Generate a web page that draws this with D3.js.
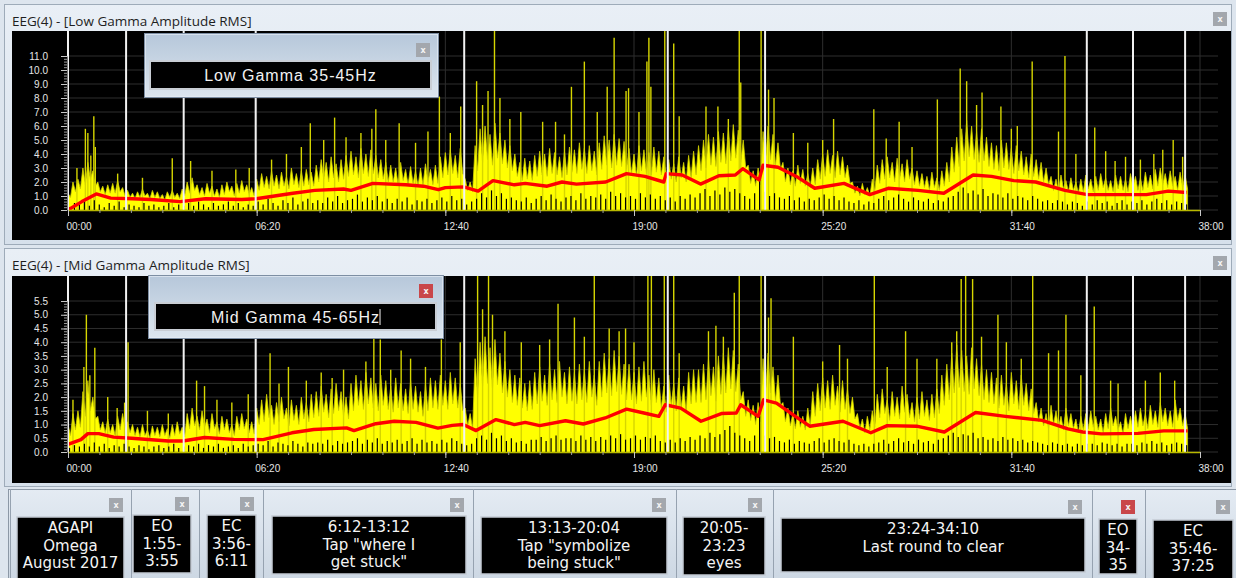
<!DOCTYPE html>
<html>
<head>
<meta charset="utf-8">
<title>EEG(4) Gamma Amplitude RMS</title>
<script src="https://cdn.jsdelivr.net/npm/d3@7"></script>
<style>
  body { margin: 0; background: #dfe7f0; }
  svg { display: block; }
</style>
</head>
<body>
<div id="eegchart"></div>
<script>
// ---- values ----

var stepSec = 10; // body / core / floor arrays hold one value every 10 s

var tickSecs = [0, 380, 760, 1140, 1520, 1900, 2280];
var tickLabels = ["00:00", "06:20", "12:40", "19:00", "25:20", "31:40", "38:00"];

// white event markers, in seconds
var markerSecs = [0, 117, 233, 378, 798, 1208, 1404, 2052, 2145, 2250];

var lowTicks = [0, 1, 2, 3, 4, 5, 6, 7, 8, 9, 10, 11];
var midTicks = [0, 0.5, 1, 1.5, 2, 2.5, 3, 3.5, 4, 4.5, 5, 5.5];

// Low gamma: tips of the dense yellow band
var lowBody = [1.2,2.0,2.2, 3.0,3.4,2.8, 2.0,1.7,1.8, 1.9,2.1,1.6,
  1.4,1.2,1.3,1.5,1.2,1.4,1.3,1.1,1.3,1.4,1.2,1.5,
  2.0,2.3,1.8,1.6,1.9,1.7,1.5,1.8,2.0,1.7,1.9,2.1,1.8,1.6,
  2.2,2.6,2.4,2.8,2.5,2.7,2.4,3.0,2.6,2.8,2.9,2.7,
  3.2,3.6,3.4,3.8,3.3,3.6,3.9, 4.2,3.8,4.4,4.0,4.3,3.9,3.6,3.4,
  3.2,3.0,3.4,2.9,3.1,2.8,3.0,3.3,2.9,3.2, 3.8,4.1,4.3,3.9,4.4, 2.2,2.0,
  4.6,5.8,6.0,5.4,6.2,5.5,5.0,4.6,4.0, 3.4,3.7,3.5, 3.9,4.2,4.0,4.4,4.1,3.8,4.2,
  4.5,4.3,4.8,4.4,4.6,4.2, 4.8,5.3,5.0,5.4,5.1,4.9, 4.4,4.0,4.6,4.3,4.1,4.5,4.2,
  3.8, 3.6,3.3,3.8,3.4,3.9,4.2, 4.6,5.0,5.4,5.2,5.6,5.5,5.9,6.1,5.7,5.0,
  3.2,2.8,3.0, 5.6,6.0,5.4,4.8, 3.4,3.0,2.8,3.2,2.9,2.6,3.0,
  3.6,4.0,4.3,3.9,4.2,3.8,3.2, 2.0,1.7,1.9,1.6,2.2,
  3.2,3.6,3.8,3.4,3.7,3.3,3.6,3.0,2.8, 2.6,2.4,2.7,2.3,2.8,3.4,
  4.5,5.2,5.8,6.4,6.0,5.6,5.8,5.2,4.8, 4.6,5.0,4.8,4.4,4.6, 4.2,3.8,4.0,3.6,3.4,3.0,
  2.4,2.2,2.5,2.1,2.3,2.0,2.2, 2.5,2.2,2.4,2.6,2.3,2.1,2.5,2.4,2.2,2.6,
  2.4,2.3,2.7,2.5,2.9,3.0,2.6,2.8,2.4,2.7,2.5];

// Low gamma: solid level between the tips
var lowCore = [0.9,1.3,1.5, 1.8,2.2,1.7, 1.3,1.1,1.2, 1.2,1.3,1.0,
  0.9,0.8,0.9,1.0,0.8,0.9,0.8,0.7,0.9,0.9,0.8,1.0,
  1.2,1.4,1.1,1.0,1.2,1.0,0.9,1.1,1.3,1.0,1.2,1.3,1.1,1.0,
  1.4,1.6,1.5,1.7,1.5,1.7,1.5,1.8,1.6,1.7,1.8,1.7,
  2.0,2.2,2.0,2.3,2.0,2.2,2.4, 2.5,2.3,2.6,2.4,2.6,2.3,2.2,2.0,
  2.0,1.8,2.1,1.8,1.9,1.7,1.8,2.0,1.8,1.9, 2.3,2.5,2.6,2.3,2.6, 1.4,1.3,
  2.8,3.4,3.6,3.2,3.7,3.3,3.0,2.8,2.4, 2.1,2.2,2.1, 2.4,2.5,2.4,2.6,2.5,2.3,2.5,
  2.7,2.6,2.9,2.6,2.8,2.5, 2.9,3.2,3.0,3.2,3.1,2.9, 2.6,2.4,2.8,2.6,2.5,2.7,2.5,
  2.3, 2.2,2.0,2.3,2.0,2.3,2.5, 2.8,3.0,3.2,3.1,3.4,3.3,3.5,3.7,3.4,3.0,
  1.9,1.7,1.8, 3.4,3.6,3.2,2.9, 2.0,1.8,1.7,1.9,1.7,1.6,1.8,
  2.2,2.4,2.6,2.3,2.5,2.3,1.9, 1.2,1.0,1.1,1.0,1.3,
  1.9,2.2,2.3,2.0,2.2,2.0,2.2,1.8,1.7, 1.6,1.4,1.6,1.4,1.7,2.0,
  2.7,3.1,3.5,3.8,3.6,3.4,3.5,3.1,2.9, 2.8,3.0,2.9,2.6,2.8, 2.5,2.3,2.4,2.2,2.0,1.8,
  1.4,1.3,1.5,1.3,1.4,1.2,1.3, 1.5,1.3,1.4,1.6,1.4,1.3,1.5,1.4,1.3,1.6,
  1.4,1.4,1.6,1.5,1.7,1.8,1.6,1.7,1.4,1.6,1.5];

// Low gamma: black dips rising from the baseline
var lowFloor = [0.2,0.5,0.4, 0.6,0.3,0.7, 0.4,0.2,0.5, 0.3,0.6,0.2,
  0.4,0.3,0.2,0.5,0.3,0.4,0.2,0.3,0.5,0.2,0.4,0.3,
  0.5,0.3,0.6,0.4,0.2,0.5,0.3,0.4,0.6,0.3,0.5,0.2,0.4,0.3,
  0.6,0.4,0.8,0.5,0.3,0.7,0.5,0.9,0.4,0.6,0.8,0.5,
  0.7,0.5,0.9,0.6,1.0,0.5,0.7, 0.8,1.1,0.6,0.9,0.7,1.0,0.6,0.8,
  0.5,0.8,0.6,0.9,0.4,0.7,0.6,0.8,0.5,0.7, 0.9,0.6,1.0,0.7,0.8, 0.4,0.6,
  0.8,1.2,0.9,1.4,1.0,1.2,0.8,0.9,0.7, 0.6,0.9,0.5, 0.8,1.0,0.7,1.1,0.8,0.6,0.9,
  1.0,0.7,1.2,0.8,1.0,0.9, 1.1,0.8,1.3,1.0,1.2,0.9, 1.0,0.8,1.2,0.9,1.1,0.8,1.0,
  0.7, 0.9,0.6,1.0,0.8,1.1,0.9, 1.2,1.5,1.0,1.4,1.1,1.6,1.3,1.5,1.2,1.0,
  0.8,1.2,2.5, 1.3,1.0,1.2,0.9, 0.8,1.0,0.7,0.9,0.6,0.8,0.7,
  0.9,1.1,0.8,1.0,0.7,0.9,0.6, 0.5,0.7,0.4,0.6,0.5,
  0.8,1.0,0.7,0.9,1.1,0.8,0.6,0.9,0.7, 0.6,0.8,0.5,0.7,0.6,0.9,
  1.0,1.3,1.6,1.2,1.4,1.1,1.5,1.0,1.2, 1.1,0.9,1.2,0.8,1.0, 0.9,0.7,1.0,0.8,0.6,0.7,
  0.5,0.7,0.6,0.4,0.6,0.5,0.3, 0.6,0.4,0.7,0.5,0.6,0.3,0.5,0.7,0.4,0.6,
  0.5,0.7,0.4,0.6,0.8,0.5,0.7,0.4,0.6,0.5,0.4];

// Low gamma: tall single spikes [seconds, value]
var lowSpikes = [[18,3.0],[35,5.8],[40,5.5],[46,3.9],[52,6.7],[55,4.5],[100,2.6],[150,2.3],
  [210,3.7],[247,3.5],[290,2.8],[338,2.9],[365,3.0],[410,3.6],[440,4.0],[470,4.5],[488,6.2],
  [515,5.0],[537,6.6],[560,5.2],[590,5.5],[612,5.8],[620,7.2],[640,5.0],[667,6.2],[700,4.8],
  [725,5.6],[748,8.1],[770,5.5],[791,7.4],[823,9.2],[835,7.5],[846,8.5],[859,12.8],[870,8.0],
  [890,6.5],[912,7.0],[956,6.3],[982,6.3],[1000,5.4],[1014,8.8],[1040,10.6],[1066,7.0],
  [1086,8.8],[1100,12.3],[1124,8.5],[1129,8.7],[1150,7.0],[1166,10.6],[1170,12.3],[1174,8.8],
  [1202,13.5],[1220,11.9],[1231,6.7],[1285,7.4],[1309,7.4],[1330,6.5],[1352,13.5],[1355,9.1],
  [1396,13.5],[1411,8.6],[1422,8.0],[1461,5.5],[1490,4.8],[1520,5.0],[1542,6.5],[1623,7.2],
  [1648,5.1],[1674,6.3],[1700,4.5],[1751,7.9],[1797,10.1],[1810,9.2],[1830,7.5],[1841,8.4],
  [1879,7.4],[1900,5.8],[1912,6.0],[1942,10.6],[1995,5.6],[2008,11.0],[2030,4.0],[2068,5.9],
  [2090,4.2],[2109,3.5],[2130,3.8],[2160,3.6],[2187,4.0],[2205,4.3],[2226,5.0],[2245,3.8]];

// Low gamma: red running mean [seconds, value]
var lowMean = [[0,0],[28,0.6],[57,1.15],[86,0.85],[130,0.8],[167,0.75],[226,0.6],[277,0.8],
  [350,0.75],[379,0.8],[453,1.2],[497,1.4],[555,1.5],[570,1.4],[614,1.9],[680,1.8],[716,1.7],
  [746,1.45],[760,1.6],[797,1.65],[826,1.35],[856,2.1],[899,1.8],[921,1.9],[965,1.7],[995,2.0],
  [1024,1.85],[1083,2.0],[1125,2.6],[1162,2.4],[1200,2.0],[1205,2.6],[1237,2.5],[1274,1.85],
  [1311,2.45],[1344,2.5],[1359,2.95],[1392,2.15],[1400,3.2],[1430,3.05],[1467,2.4],[1504,1.55],
  [1563,1.9],[1615,1.1],[1652,1.55],[1712,1.4],[1764,1.2],[1823,2.5],[1860,2.4],[1905,2.1],
  [1949,2.0],[2008,1.4],[2053,1.1],[2112,1.1],[2172,1.1],[2216,1.35],[2253,1.25]];

// Mid gamma: tips of the dense yellow band
var midBody = [1.0,1.4,1.5, 2.2,2.6,2.0, 1.3,1.1,1.2,1.0,1.3,1.4, 1.1,
  1.0,0.9,1.0,0.8,0.95,0.9,1.0,0.85,1.0,1.1,0.9,
  1.4,1.6,1.3,1.5,1.2,1.4,1.1,1.3,1.2,1.0,1.3,1.4,1.2,1.1,
  1.6,1.9,2.1,1.7,1.8,2.0,1.6,1.9,1.7,2.0,1.8,2.1,
  2.2,2.4,2.1,2.3,2.5,2.2,2.0, 2.5,2.8,2.6,2.9,2.7,2.5,2.8,2.6,
  2.4,2.7,2.5,2.3,2.6,2.4,2.2,2.5,2.7,2.6, 2.8,2.6,2.9,2.7,2.5, 1.6,1.4,
  3.4,4.0,4.2,3.8,4.1,3.6,3.3,3.0,2.8, 2.7,2.5,2.6, 2.9,3.1,2.8,3.2,3.0,3.3,2.9,
  3.1,2.9,3.2,3.0,3.3,2.8, 3.3,3.6,3.4,3.7,3.5,3.2, 3.2,2.9,3.1,3.3,2.8,3.0,2.7,
  2.4, 2.8,2.5,2.7,2.4,2.9,3.0, 3.0,3.2,3.4,3.1,3.5,3.6,3.8,3.7,3.2,
  2.2,1.9,1.7,1.8, 3.4,3.6,3.1,2.8, 1.8,1.6,1.4,1.5,1.3,1.6,
  2.2,2.5,2.7,2.6,2.8,2.4,2.6,2.3,2.0, 1.4,1.2,1.3,1.5,
  2.1,2.3,1.9,2.2,2.0,2.4,2.1,1.8,2.0,2.2,1.9,2.1,2.3,
  2.8,3.2,3.6,3.9,3.7,3.5,3.8,3.4,3.2,3.0, 2.9,2.7,2.8,2.5,2.9,2.6,2.8,2.5,2.3,
  1.8,1.6,1.4,1.7,1.5,1.3,1.6,1.4,1.2, 1.3,1.4, 1.5,1.3,1.2,1.4,1.6,1.3,1.1,1.4,
  1.3,1.5,1.6,1.4,1.7,1.5,1.8,1.6,1.5,1.9,1.6,1.4];

// Mid gamma: solid level between the tips
var midCore = [0.6,0.8,0.9, 1.3,1.5,1.2, 0.8,0.7,0.7,0.6,0.8,0.8, 0.7,
  0.6,0.55,0.6,0.5,0.6,0.55,0.6,0.5,0.6,0.65,0.55,
  0.85,0.95,0.8,0.9,0.7,0.85,0.65,0.8,0.7,0.6,0.8,0.85,0.7,0.65,
  1.0,1.1,1.25,1.0,1.1,1.2,0.95,1.15,1.0,1.2,1.1,1.25,
  1.3,1.45,1.25,1.4,1.5,1.3,1.2, 1.5,1.7,1.55,1.75,1.6,1.5,1.7,1.55,
  1.45,1.6,1.5,1.4,1.55,1.45,1.3,1.5,1.6,1.55, 1.7,1.55,1.75,1.6,1.5, 0.95,0.85,
  2.0,2.4,2.5,2.3,2.45,2.15,2.0,1.8,1.7, 1.6,1.5,1.55, 1.75,1.85,1.7,1.9,1.8,2.0,1.75,
  1.85,1.75,1.9,1.8,2.0,1.7, 2.0,2.15,2.05,2.2,2.1,1.9, 1.9,1.75,1.85,2.0,1.7,1.8,1.6,
  1.45, 1.7,1.5,1.6,1.45,1.75,1.8, 1.8,1.9,2.05,1.85,2.1,2.15,2.3,2.2,1.9,
  1.3,1.15,1.0,1.1, 2.05,2.15,1.85,1.7, 1.1,0.95,0.85,0.9,0.8,0.95,
  1.3,1.5,1.6,1.55,1.7,1.45,1.55,1.4,1.2, 0.85,0.7,0.8,0.9,
  1.25,1.4,1.15,1.3,1.2,1.45,1.25,1.1,1.2,1.3,1.15,1.25,1.4,
  1.7,1.9,2.15,2.35,2.2,2.1,2.3,2.05,1.9,1.8, 1.75,1.6,1.7,1.5,1.75,1.55,1.7,1.5,1.4,
  1.1,0.95,0.85,1.0,0.9,0.8,0.95,0.85,0.7, 0.8,0.85, 0.9,0.8,0.7,0.85,0.95,0.8,0.65,0.85,
  0.8,0.9,0.95,0.85,1.0,0.9,1.1,0.95,0.9,1.15,0.95,0.85];

// Mid gamma: black dips rising from the baseline
var midFloor = [0.15,0.25,0.2, 0.3,0.2,0.35, 0.2,0.3,0.15,0.25,0.2,0.3, 0.2,
  0.15,0.25,0.2,0.1,0.2,0.25,0.15,0.2,0.3,0.15,0.2,
  0.25,0.2,0.3,0.15,0.25,0.2,0.3,0.15,0.2,0.25,0.15,0.3,0.2,0.25,
  0.3,0.25,0.4,0.2,0.35,0.3,0.25,0.4,0.3,0.2,0.35,0.3,
  0.35,0.3,0.45,0.25,0.4,0.3,0.35, 0.4,0.5,0.3,0.45,0.35,0.5,0.3,0.4,
  0.35,0.45,0.3,0.4,0.5,0.3,0.45,0.35,0.4,0.3, 0.45,0.35,0.5,0.4,0.3, 0.25,0.3,
  0.5,0.6,0.45,0.7,0.5,0.6,0.4,0.5,0.35, 0.4,0.3,0.45, 0.45,0.55,0.4,0.5,0.6,0.45,0.5,
  0.5,0.4,0.6,0.45,0.55,0.4, 0.55,0.45,0.6,0.5,0.65,0.45, 0.5,0.6,0.45,0.55,0.5,0.6,0.4,
  0.35, 0.45,0.35,0.5,0.4,0.55,0.45, 0.6,0.5,0.7,0.55,0.65,0.8,0.95,0.7,0.6,
  0.5,0.4,0.6,1.3, 0.6,0.5,0.55,0.4, 0.35,0.45,0.3,0.4,0.35,0.3,
  0.4,0.5,0.35,0.45,0.5,0.4,0.35,0.45,0.3, 0.25,0.3,0.2,0.3,
  0.35,0.45,0.3,0.4,0.5,0.35,0.4,0.3,0.45,0.35,0.4,0.3,0.45,
  0.5,0.6,0.7,0.55,0.65,0.6,0.7,0.5,0.55,0.45, 0.5,0.4,0.55,0.45,0.5,0.4,0.45,0.35,0.4,
  0.35,0.3,0.25,0.35,0.3,0.25,0.3,0.2,0.3, 0.25,0.3, 0.3,0.25,0.35,0.3,0.25,0.3,0.2,0.3,
  0.3,0.25,0.35,0.3,0.4,0.3,0.35,0.25,0.3,0.35,0.3,0.25];

// Mid gamma: tall single spikes [seconds, value]
var midSpikes = [[10,1.9],[32,3.1],[37,5.0],[44,2.8],[54,3.8],[80,2.0],[99,1.6],[114,1.8],
  [121,4.0],[160,1.5],[202,1.4],[259,2.6],[275,2.4],[300,1.9],[330,1.8],[363,2.1],[407,3.6],
  [425,2.5],[444,3.1],[480,2.6],[510,2.9],[532,2.7],[555,3.0],[600,3.3],[616,4.2],[629,4.1],
  [650,3.0],[671,3.7],[690,3.4],[720,3.1],[752,4.1],[790,4.0],[825,7.0],[835,5.2],[847,7.0],
  [855,5.0],[880,4.4],[913,4.0],[950,3.9],[970,4.1],[987,5.4],[1020,4.9],[1040,4.2],[1060,7.0],
  [1090,4.5],[1110,4.4],[1123,4.5],[1140,4.0],[1168,7.0],[1175,7.0],[1201,7.0],[1220,7.0],
  [1231,3.6],[1290,4.4],[1305,4.6],[1320,4.2],[1342,5.8],[1352,7.0],[1396,7.0],[1411,4.9],
  [1416,5.6],[1461,4.2],[1520,3.3],[1554,3.9],[1570,3.4],[1624,7.0],[1650,3.1],[1687,4.4],
  [1710,3.4],[1750,3.4],[1780,4.0],[1790,4.4],[1799,6.3],[1808,7.0],[1822,6.3],[1840,4.2],
  [1873,5.0],[1890,4.0],[1920,3.4],[1943,7.0],[1975,3.6],[1995,3.7],[2010,5.0],[2040,2.8],
  [2067,5.3],[2100,2.6],[2115,2.5],[2170,2.6],[2200,2.9],[2229,2.6],[2250,2.2]];

// Mid gamma: red running mean [seconds, value]
var midMean = [[0,0.28],[26,0.45],[40,0.67],[62,0.67],[92,0.54],[128,0.5],[202,0.4],[231,0.4],
  [275,0.53],[334,0.46],[393,0.45],[451,0.7],[495,0.82],[561,0.88],[576,0.78],[620,1.03],
  [657,1.12],[701,1.08],[745,0.87],[774,0.97],[796,1.0],[822,0.78],[862,1.18],[899,1.0],
  [921,1.08],[950,0.96],[1002,1.14],[1038,1.02],[1082,1.24],[1125,1.56],[1160,1.42],[1190,1.3],
  [1203,1.72],[1234,1.6],[1275,1.12],[1316,1.4],[1346,1.42],[1355,1.72],[1390,1.3],[1401,1.9],
  [1427,1.78],[1465,1.3],[1494,0.94],[1561,1.12],[1617,0.7],[1650,0.96],[1709,0.94],[1765,0.73],
  [1828,1.44],[1888,1.3],[1962,1.15],[2014,0.84],[2044,0.73],[2081,0.66],[2155,0.68],
  [2207,0.77],[2255,0.77]];

// note boxes along the bottom strip
var noteText = [
  ["AGAPI", "Omega", "August 2017"],
  ["EO", "1:55-", "3:55"],
  ["EC", "3:56-", "6:11"],
  ["6:12-13:12", "Tap \"where I", "get stuck\""],
  ["13:13-20:04", "Tap \"symbolize", "being stuck\""],
  ["20:05-", "23:23", "eyes"],
  ["23:24-34:10", "Last round to clear"],
  ["EO", "34-", "35"],
  ["EC", "35:46-", "37:25"]
];

// ---- layout (screen geometry, not data) ----
var noteLayout = [
  { left: 10,   box: [17, 517, 107, 70],  btn: [109, 498] },
  { left: 131,  box: [133, 515, 58, 58],  btn: [175, 497] },
  { left: 199,  box: [207, 515, 49, 70],  btn: [240, 497] },
  { left: 263,  box: [272, 516, 194, 58], btn: [450, 498] },
  { left: 473,  box: [481, 517, 186, 57], btn: [652, 498] },
  { left: 676,  box: [683, 517, 82, 58],  btn: [748, 498] },
  { left: 773,  box: [781, 518, 304, 54], btn: [1068, 500] },
  { left: 1092, box: [1099, 519, 38, 55], btn: [1121, 500], red: true },
  { left: 1145, box: [1153, 520, 80, 70], btn: [1216, 500] }
];

EEGChart();

function EEGChart() {
    var svg = d3.select("#eegchart")
                .append("svg")
                .attr("width", 1236)
                .attr("height", 578);

    var defs = svg.append("defs");
    addGradient(defs, "winGrad", "#e9eff6", "#d6e0eb");
    addGradient(defs, "popGrad", "#b6c7da", "#dde6ef");
    addGradient(defs, "noteGrad", "#e4ebf3", "#ccd7e3");

    svg.append("rect").attr("width", 1236).attr("height", 578).attr("fill", "#dde5ee");

    // shared time scale (seconds -> px)
    var x = d3.scaleLinear().domain([0, 2280]).range([68, 1200]);

    drawPanel(svg, x, {
        id: "low", frameY: 4, frameH: 240, title: "EEG(4) - [Low Gamma Amplitude RMS]", titleY: 26,
        plotTop: 31, plotBottom: 240, base: 210, max: 11, unitPx: 14, ticks: lowTicks, minor: 0.2,
        body: lowBody, core: lowCore, floor: lowFloor, spikes: lowSpikes, mean: lowMean
    });
    drawPanel(svg, x, {
        id: "mid", frameY: 248, frameH: 238, title: "EEG(4) - [Mid Gamma Amplitude RMS]", titleY: 270,
        plotTop: 276, plotBottom: 483, base: 452, max: 5.5, unitPx: 27.45, ticks: midTicks, minor: 0.1,
        body: midBody, core: midCore, floor: midFloor, spikes: midSpikes, mean: midMean
    });

    // floating label windows
    popup(svg, 144, 33, 294, 64, [150, 61, 281, 28], [416, 43], false, "Low Gamma 35-45Hz", false);
    popup(svg, 148, 275, 295, 63, [155, 303, 281, 27], [419, 284], true, "Mid Gamma 45-65Hz", true);

    drawNotes(svg);
}

function addGradient(defs, id, c0, c1) {
    var gr = defs.append("linearGradient").attr("id", id).attr("x1", 0).attr("y1", 0).attr("x2", 0).attr("y2", 1);
    gr.append("stop").attr("offset", "0%").attr("stop-color", c0);
    gr.append("stop").attr("offset", "100%").attr("stop-color", c1);
}

function closeButton(g, bx, by, red) {
    g.append("rect")
     .attr("x", bx).attr("y", by).attr("width", 14).attr("height", 14)
     .attr("fill", red ? "#c9474a" : "#a3a7ad");
    g.append("text")
     .attr("x", bx + 7).attr("y", by + 10)
     .attr("text-anchor", "middle")
     .attr("font-family", "'DejaVu Sans', sans-serif")
     .attr("font-size", "8px").attr("font-weight", "bold")
     .attr("fill", "#f4f4f4")
     .text("x");
}

function drawPanel(svg, x, p) {
    var g = svg.append("g");

    // window frame + title
    g.append("rect")
     .attr("x", 4.5).attr("y", p.frameY + 0.5).attr("width", 1227).attr("height", p.frameH)
     .attr("fill", "url(#winGrad)").attr("stroke", "#9eabb9");
    g.append("text")
     .attr("x", 12).attr("y", p.titleY)
     .attr("font-family", "'Open Sans', sans-serif").attr("font-size", "13.5px")
     .attr("fill", "#1e1e1e")
     .text(p.title);
    closeButton(g, 1213, p.frameY + 8, false);

    // black plot background
    g.append("rect")
     .attr("x", 12).attr("y", p.plotTop).attr("width", 1219).attr("height", p.plotBottom - p.plotTop)
     .attr("fill", "#000");

    var y = d3.scaleLinear().domain([0, p.max]).range([p.base, p.base - p.max * p.unitPx]);

    // grid
    g.append("g").selectAll("line").data(p.ticks).enter().append("line")
     .attr("x1", 68).attr("x2", 1218)
     .attr("y1", function(d) { return y(d); }).attr("y2", function(d) { return y(d); })
     .attr("stroke", "#2e2e2e");
    g.append("g").selectAll("line").data(tickSecs).enter().append("line")
     .attr("x1", function(d) { return x(d); }).attr("x2", function(d) { return x(d); })
     .attr("y1", p.plotTop).attr("y2", p.base)
     .attr("stroke", "#2e2e2e");

    svg.select("defs").append("clipPath").attr("id", "clip-" + p.id)
       .append("rect").attr("x", 12).attr("y", p.plotTop).attr("width", 1219).attr("height", p.base - p.plotTop);
    var plot = g.append("g").attr("clip-path", "url(#clip-" + p.id + ")");

    // dense yellow band: tips (every 10 s) alternating with the solid level between them
    var band = [];
    p.body.forEach(function(v, i) {
        band.push([i * stepSec, v]);
        band.push([i * stepSec + stepSec / 2, p.core[i]]);
    });
    var area = d3.area()
                 .x(function(d) { return x(d[0]); })
                 .y0(y(0))
                 .y1(function(d) { return y(d[1]); });
    plot.append("path").datum(band)
        .attr("d", area)
        .attr("fill", "#ffff00")
        .attr("stroke", "#cfcf00").attr("stroke-width", 0.8);

    // tall spikes
    plot.append("g").selectAll("line").data(p.spikes).enter().append("line")
        .attr("x1", function(d) { return x(d[0]); }).attr("x2", function(d) { return x(d[0]); })
        .attr("y1", y(0)).attr("y2", function(d) { return y(d[1]); })
        .attr("stroke", "#d6d600").attr("stroke-width", 1.4);

    // black dips near the baseline
    plot.append("g").selectAll("line").data(p.floor).enter().append("line")
        .attr("x1", function(d, i) { return x(i * stepSec + 3); })
        .attr("x2", function(d, i) { return x(i * stepSec + 3); })
        .attr("y1", y(0)).attr("y2", function(d) { return y(d); })
        .attr("stroke", "#000").attr("stroke-width", 1.2);

    // running mean
    var line = d3.line()
                 .x(function(d) { return x(d[0]); })
                 .y(function(d) { return y(d[1]); });
    plot.append("path").datum(p.mean)
        .attr("d", line)
        .attr("fill", "none")
        .attr("stroke", "#ff0000").attr("stroke-width", 3.4)
        .attr("stroke-linejoin", "round");

    // event markers
    plot.append("g").selectAll("line").data(markerSecs).enter().append("line")
        .attr("x1", function(d) { return x(d); }).attr("x2", function(d) { return x(d); })
        .attr("y1", p.plotTop).attr("y2", p.base)
        .attr("stroke", "#f2f2f2").attr("stroke-width", 2);

    // y axis
    var yMinor = g.append("g").attr("transform", "translate(67,0)")
                  .call(d3.axisLeft(y).tickValues(d3.range(0, p.max + 1e-6, p.minor)).tickSize(3).tickSizeOuter(0).tickFormat(""));
    yMinor.select(".domain").attr("stroke", "#7a7a7a");
    yMinor.selectAll(".tick line").attr("stroke", "#9a9a9a");

    var yAxis = g.append("g").attr("transform", "translate(67,0)")
                 .call(d3.axisLeft(y).tickValues(p.ticks).tickFormat(d3.format(".1f")).tickSize(6).tickSizeOuter(0).tickPadding(13));
    yAxis.select(".domain").remove();
    yAxis.selectAll(".tick line").attr("stroke", "#c8c8c8");
    yAxis.selectAll("text")
         .attr("fill", "#e6e6e6")
         .attr("font-family", "'Liberation Sans', Arial, sans-serif")
         .attr("font-size", "10px");

    // x axis
    var xMinor = g.append("g").attr("transform", "translate(0," + p.base + ")")
                  .call(d3.axisBottom(x).tickValues(d3.range(0, 2281, 380 / 6)).tickSize(3).tickSizeOuter(0).tickFormat(""));
    xMinor.select(".domain").attr("stroke", "#b8b800").attr("stroke-width", 1.5);
    xMinor.selectAll(".tick line").attr("stroke", "#a0a0a0");

    var xAxis = g.append("g").attr("transform", "translate(0," + p.base + ")")
                 .call(d3.axisBottom(x).tickValues(tickSecs)
                         .tickFormat(function(d, i) { return tickLabels[i]; })
                         .tickSize(6).tickSizeOuter(0).tickPadding(7));
    xAxis.select(".domain").remove();
    xAxis.selectAll(".tick line").attr("stroke", "#c8c8c8");
    xAxis.selectAll("text")
         .attr("text-anchor", "start").attr("dx", -2)
         .attr("fill", "#e6e6e6")
         .attr("font-family", "'Liberation Sans', Arial, sans-serif")
         .attr("font-size", "10px");
}

function popup(svg, px, py, pw, ph, tb, btn, red, label, cursor) {
    var g = svg.append("g");
    g.append("rect")
     .attr("x", px + 0.5).attr("y", py + 0.5).attr("width", pw).attr("height", ph)
     .attr("fill", "url(#popGrad)").attr("stroke", "#7d8ea3");
    g.append("rect")
     .attr("x", px + 1.5).attr("y", py + 1.5).attr("width", pw - 2).attr("height", ph - 2)
     .attr("fill", "none").attr("stroke", "#e6edf5").attr("stroke-opacity", 0.7);
    closeButton(g, btn[0], btn[1], red);
    g.append("rect")
     .attr("x", tb[0]).attr("y", tb[1]).attr("width", tb[2]).attr("height", tb[3])
     .attr("fill", "#000").attr("stroke", "#c9ced5").attr("stroke-width", 2);
    var t = g.append("text")
     .attr("x", tb[0] + tb[2] / 2).attr("y", tb[1] + tb[3] / 2 + 6)
     .attr("text-anchor", "middle")
     .attr("font-family", "'Liberation Sans', Arial, sans-serif")
     .attr("font-size", "16px").attr("letter-spacing", "1px")
     .attr("fill", "#f2f2f2")
     .text(label);
    if (cursor) {
        var w = t.node().getComputedTextLength();
        var cx = tb[0] + tb[2] / 2 + w / 2;
        g.append("line")
         .attr("x1", cx).attr("x2", cx)
         .attr("y1", tb[1] + 6).attr("y2", tb[1] + tb[3] - 5)
         .attr("stroke", "#f2f2f2").attr("stroke-width", 1);
    }
}

function drawNotes(svg) {
    var g = svg.append("g");
    g.append("rect")
     .attr("x", 8.5).attr("y", 489.5).attr("width", 1230).attr("height", 92)
     .attr("fill", "url(#noteGrad)").attr("stroke", "#8c98a6");

    noteLayout.forEach(function(l, i) {
        g.append("line")
         .attr("x1", l.left + 0.5).attr("x2", l.left + 0.5)
         .attr("y1", 489).attr("y2", 578)
         .attr("stroke", "#96a2b0");
        closeButton(g, l.btn[0], l.btn[1], l.red);
        g.append("rect")
         .attr("x", l.box[0]).attr("y", l.box[1]).attr("width", l.box[2]).attr("height", l.box[3])
         .attr("fill", "#000").attr("stroke", "#c3cad3").attr("stroke-width", 1.5);

        var cx = l.box[0] + l.box[2] / 2;
        var t = g.append("text")
                 .attr("text-anchor", "middle")
                 .attr("font-family", "'DejaVu Sans', Verdana, sans-serif")
                 .attr("font-size", "15px")
                 .attr("fill", "#f4f4f4");
        noteText[i].forEach(function(s, k) {
            t.append("tspan").attr("x", cx).attr("y", l.box[1] + 16 + k * 17.5).text(s);
        });
    });
}
</script>
</body>
</html>
